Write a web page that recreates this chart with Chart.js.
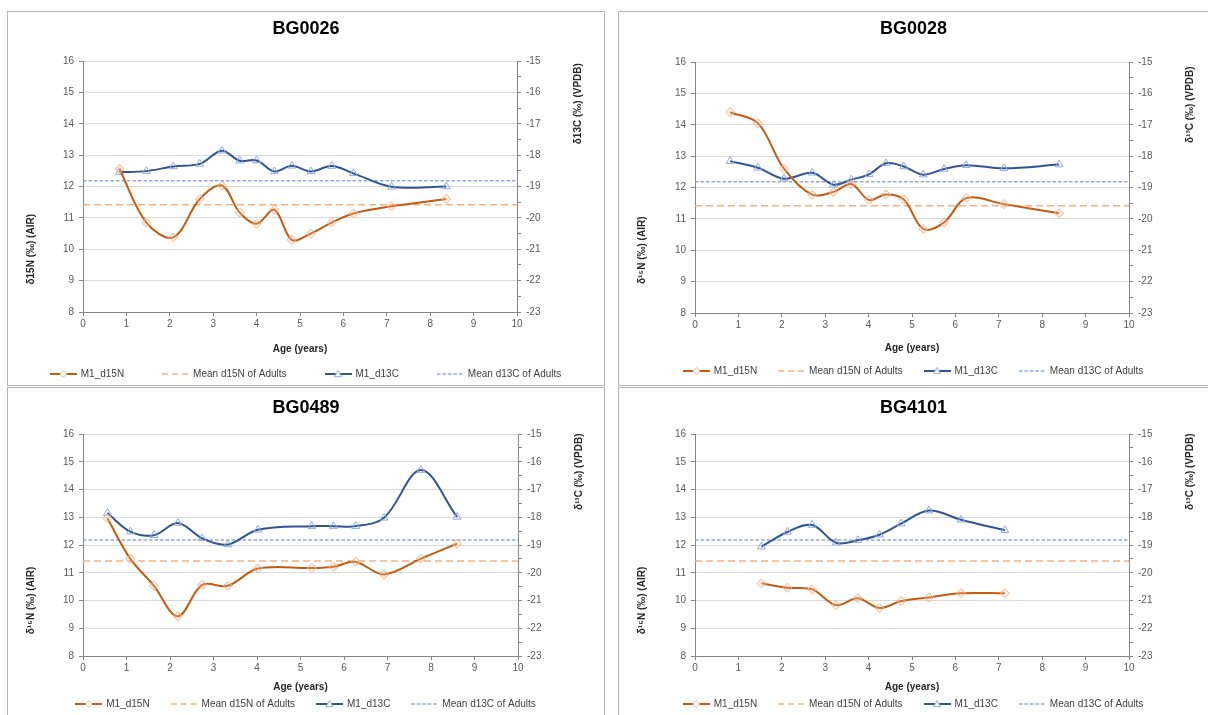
<!DOCTYPE html>
<html>
<head>
<meta charset="utf-8">
<script src="https://cdn.jsdelivr.net/npm/chart.js@4.4.1/dist/chart.umd.min.js"></script>
<style>
body { margin: 0; background: #fff; width: 1208px; height: 715px; overflow: hidden; position: relative; }
.panel { position: absolute; border: 1px solid #b4b4b4; box-sizing: border-box; }
canvas { position: absolute; }
</style>
</head>
<body>
<div class="panel" style="left:7px;top:11px;width:598px;height:375px"></div>
<div class="panel" style="left:618px;top:11px;width:600px;height:375px"></div>
<div class="panel" style="left:7px;top:387px;width:598px;height:340px"></div>
<div class="panel" style="left:618px;top:387px;width:600px;height:340px"></div>
<canvas id="c0" width="596" height="373" style="left:8px;top:12px"></canvas>
<canvas id="c1" width="589" height="373" style="left:619px;top:12px"></canvas>
<canvas id="c2" width="596" height="327" style="left:8px;top:388px"></canvas>
<canvas id="c3" width="589" height="327" style="left:619px;top:388px"></canvas>
<script>
// values
var meanD15N = 11.42;
var meanD13C = -18.82;
var meanX = [0, 10];

var ages0026 = [0.84, 1.46, 2.08, 2.69, 3.20, 3.61, 4.00, 4.41, 4.81, 5.25, 5.73, 6.23, 7.11, 8.37];
var d15N0026 = [12.56, 10.85, 10.38, 11.60, 12.03, 11.17, 10.81, 11.26, 10.30, 10.50, 10.85, 11.14, 11.37, 11.60];
var d13C0026 = [-18.54, -18.51, -18.36, -18.28, -17.86, -18.18, -18.17, -18.52, -18.34, -18.52, -18.35, -18.58, -19.01, -19.00];

var ages0028 = [0.81, 1.45, 2.05, 2.70, 3.19, 3.60, 4.01, 4.40, 4.81, 5.26, 5.74, 6.25, 7.12, 8.39];
var d15N0028 = [14.40, 14.05, 12.60, 11.77, 11.86, 12.11, 11.60, 11.78, 11.62, 10.68, 10.89, 11.66, 11.47, 11.18];
var d13C0028 = [-18.16, -18.37, -18.72, -18.53, -18.91, -18.75, -18.58, -18.23, -18.33, -18.59, -18.41, -18.29, -18.39, -18.27];

var ages0489 = [0.56, 1.09, 1.63, 2.18, 2.74, 3.33, 4.02, 5.26, 5.76, 6.27, 6.92, 7.77, 8.60];
var d15N0489 = [12.96, 11.50, 10.53, 9.43, 10.56, 10.53, 11.15, 11.17, 11.22, 11.39, 10.94, 11.51, 12.05];
var d13C0489 = [-17.85, -18.52, -18.65, -18.21, -18.76, -18.98, -18.45, -18.32, -18.32, -18.32, -18.02, -16.30, -17.99];

var ages4101 = [1.53, 2.13, 2.70, 3.25, 3.75, 4.25, 4.75, 5.39, 6.13, 7.14];
var d15N4101 = [10.62, 10.46, 10.40, 9.83, 10.08, 9.73, 9.98, 10.11, 10.26, 10.26];
var d13C4101 = [-19.06, -18.53, -18.28, -18.92, -18.83, -18.63, -18.23, -17.76, -18.09, -18.47];

var seriesNames = ["M1_d15N", "Mean d15N of Adults", "M1_d13C", "Mean d13C of Adults"];

var panels = [
    { id: "c0", name: "BG0026", ages: ages0026, n: d15N0026, c: d13C0026, nTitle: "δ15N (‰) (AIR)", cTitle: "δ13C (‰) (VPDB)" },
    { id: "c1", name: "BG0028", ages: ages0028, n: d15N0028, c: d13C0028, nTitle: "δ¹⁵N (‰) (AIR)", cTitle: "δ¹³C (‰) (VPDB)" },
    { id: "c2", name: "BG0489", ages: ages0489, n: d15N0489, c: d13C0489, nTitle: "δ¹⁵N (‰) (AIR)", cTitle: "δ¹³C (‰) (VPDB)" },
    { id: "c3", name: "BG4101", ages: ages4101, n: d15N4101, c: d13C4101, nTitle: "δ¹⁵N (‰) (AIR)", cTitle: "δ¹³C (‰) (VPDB)" }
];

// layout of each panel (pixels inside its canvas)
var layouts = [
    { yW: 75, y1W: 87, titlePad: { top: 6.2, bottom: 21.2 }, legPad: 39, legMax: 55, xH: 18, xTitlePad: -25 },
    { yW: 76, y1W: 79, titlePad: { top: 6.2, bottom: 22.2 }, legPad: 22, legMax: 41, xH: 31, xTitlePad: -10 },
    { yW: 75, y1W: 86, titlePad: { top: 9.2, bottom: 15.2 }, legPad: 22, legMax: 38, xH: 21, xTitlePad: -16 },
    { yW: 76, y1W: 79, titlePad: { top: 9.2, bottom: 15.2 }, legPad: 22, legMax: 38, xH: 21, xTitlePad: -16 }
];

var ORANGE = "#c55a11", ORANGE_LIGHT = "#f4b183";
var BLUE = "#2f5597", BLUE_LIGHT = "#8faadc";
var FONT = '"Liberation Sans", Arial, sans-serif';

Chart.defaults.font.family = FONT;
Chart.defaults.font.size = 10;
Chart.defaults.color = "#595959";

var toPoints = (xs, ys) => xs.map((x, i) => ({ x: x, y: ys[i] }));

var drawMarker = (g, kind, x, y, r) => {
    g.beginPath();
    if (kind === "diamond") {
        g.moveTo(x, y - r); g.lineTo(x + r, y); g.lineTo(x, y + r); g.lineTo(x - r, y);
    } else {
        g.moveTo(x, y - r); g.lineTo(x + r, y + r * 0.75); g.lineTo(x - r, y + r * 0.75);
    }
    g.closePath();
    g.fillStyle = "#fff";
    g.fill();
    g.stroke();
}

var makeSample = (color, width, dash, marker, markerColor) => {
    let c = document.createElement("canvas");
    c.width = 27;
    c.height = 10;
    let g = c.getContext("2d");
    g.strokeStyle = color;
    g.lineWidth = width;
    g.setLineDash(dash);
    g.beginPath();
    g.moveTo(0, 5);
    g.lineTo(27, 5);
    g.stroke();
    if (marker) {
        g.setLineDash([]);
        g.lineWidth = 1;
        g.strokeStyle = markerColor;
        drawMarker(g, marker, 13.5, 5, 3.5);
    }
    return c;
}

var samples = [
    makeSample(ORANGE, 2, [], "diamond", ORANGE_LIGHT),
    makeSample(ORANGE_LIGHT, 1.5, [6, 4], null),
    makeSample(BLUE, 2, [], "triangle", BLUE_LIGHT),
    makeSample(BLUE_LIGHT, 1.5, [3.5, 2], null)
];

// vertical axis titles, both read bottom to top as in the original
var yTitles = {
    id: "yTitles",
    afterDraw(chart, args, opts) {
        const ctx = chart.ctx;
        const a = chart.chartArea;
        const h = a.bottom - a.top;
        ctx.save();
        ctx.font = "bold 10px " + FONT;
        ctx.fillStyle = "#262626";
        ctx.textAlign = "center";
        ctx.textBaseline = "middle";
        [[opts.left, 23, a.top + h * 0.75], [opts.right, a.right + 61, a.top + h * 0.17]].forEach(t => {
            ctx.save();
            ctx.translate(t[1], t[2]);
            ctx.rotate(-Math.PI / 2);
            ctx.fillText(t[0], 0, 0);
            ctx.restore();
        });
        ctx.restore();
    }
};

var buildChart = (p, lay) => {
    const data = {
        datasets: [{
            label: seriesNames[0],
            data: toPoints(p.ages, p.n),
            yAxisID: "y",
            borderColor: ORANGE,
            borderWidth: 2,
            tension: 0.35,
            pointStyle: "rectRot",
            pointRadius: 4.5,
            pointBorderWidth: 1,
            pointBorderColor: ORANGE_LIGHT,
            pointBackgroundColor: "rgba(248,203,173,0.25)"
        },
        {
            label: seriesNames[1],
            data: toPoints(meanX, [meanD15N, meanD15N]),
            yAxisID: "y",
            borderColor: ORANGE_LIGHT,
            borderWidth: 1.5,
            borderDash: [7, 4],
            pointRadius: 0
        },
        {
            label: seriesNames[2],
            data: toPoints(p.ages, p.c),
            yAxisID: "y1",
            borderColor: BLUE,
            borderWidth: 2,
            tension: 0.35,
            pointStyle: "triangle",
            pointRadius: 4.5,
            pointBorderWidth: 1,
            pointBorderColor: BLUE_LIGHT,
            pointBackgroundColor: "rgba(255,255,255,0)"
        },
        {
            label: seriesNames[3],
            data: toPoints(meanX, [meanD13C, meanD13C]),
            yAxisID: "y1",
            borderColor: BLUE_LIGHT,
            borderWidth: 1.5,
            borderDash: [3.5, 2],
            pointRadius: 0
        }]
    };
    return new Chart(document.getElementById(p.id), {
        type: "line",
        data: data,
        plugins: [yTitles],
        options: {
            responsive: false,
            animation: false,
            layout: { padding: 0 },
            scales: {
                x: {
                    type: "linear",
                    min: 0,
                    max: 10,
                    ticks: { stepSize: 1, padding: 2, autoSkip: false, maxRotation: 0 },
                    grid: { drawOnChartArea: false, tickLength: 4, tickColor: "#868686" },
                    border: { color: "#868686" },
                    title: {
                        display: true,
                        text: "Age (years)",
                        color: "#262626",
                        font: { size: 10, weight: "bold" },
                        padding: { top: 0, bottom: lay.xTitlePad }
                    },
                    afterFit: s => { s.height = lay.xH; }
                },
                y: {
                    position: "left",
                    min: 8,
                    max: 16,
                    ticks: { stepSize: 1, padding: 5 },
                    grid: { color: "#d9d9d9", tickLength: 4, tickColor: "#868686" },
                    border: { color: "#868686" },
                    afterFit: s => { s.width = lay.yW; }
                },
                y1: {
                    position: "right",
                    min: -23,
                    max: -15,
                    ticks: {
                        stepSize: 0.5,
                        padding: 5,
                        autoSkip: false,
                        callback: v => Number.isInteger(v) ? v : ""
                    },
                    grid: { drawOnChartArea: false, tickLength: 4, tickColor: "#868686" },
                    border: { color: "#868686" },
                    afterFit: s => { s.width = lay.y1W; }
                }
            },
            plugins: {
                title: {
                    display: true,
                    text: p.name,
                    color: "#000",
                    font: { size: 18, weight: "bold" },
                    padding: lay.titlePad
                },
                legend: {
                    position: "bottom",
                    maxHeight: lay.legMax,
                    labels: {
                        usePointStyle: true,
                        pointStyleWidth: 25,
                        padding: lay.legPad,
                        color: "#404040",
                        font: { size: 10 },
                        generateLabels: chart => {
                            let items = Chart.defaults.plugins.legend.labels.generateLabels(chart);
                            items.forEach((it, i) => { it.pointStyle = samples[i]; });
                            return items;
                        }
                    }
                },
                tooltip: { enabled: false },
                yTitles: { left: p.nTitle, right: p.cTitle }
            }
        }
    });
}

window.onload = () => {
    for (let i = 0; i < panels.length; i++) {
        buildChart(panels[i], layouts[i]);
    }
}
</script>
</body>
</html>
